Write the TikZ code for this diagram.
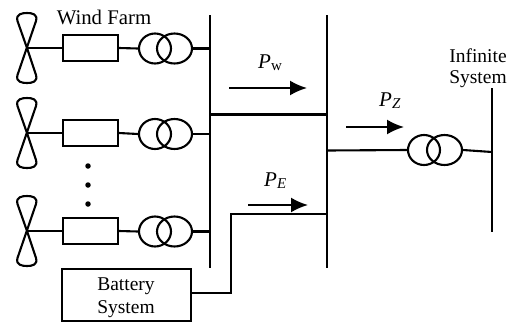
\documentclass[tikz,border=0pt]{standalone}
\usepackage{fontspec}
\setmainfont{Liberation Serif}
\usetikzlibrary{shapes.geometric,arrows.meta}
\tikzset{
  wire/.style={line width=2.1pt},
  flow/.style={line width=2.1pt,-{Latex[length=17pt,width=15pt]}},
  convbox/.style={draw,line width=2.1pt,minimum width=55pt,minimum height=26pt,inner sep=0pt},
  coilL/.style={draw,ellipse,line width=2.1pt,minimum width=32pt,minimum height=30pt,inner sep=0pt},
  coilR/.style={draw,ellipse,line width=2.1pt,minimum width=35pt,minimum height=30pt,inner sep=0pt},
  txt/.style={inner sep=0pt,font=\fontsize{19.5}{22}\selectfont,align=center},
  sym/.style={inner sep=0pt,font=\fontsize{21}{24}\selectfont},
  dotn/.style={circle,fill,inner sep=0pt,minimum size=5.5pt},
  blades/.pic={\draw[wire,line join=round]
     (0,0) -- (-9.5,-27) .. controls (-11.5,-34) and (-5,-35) .. (0,-35)
     .. controls (5,-35) and (11,-34) .. (9,-27) -- (-9.5,27)
     .. controls (-11.5,34) and (-5,35) .. (0,35)
     .. controls (5,35) and (11,34) .. (9,27) -- (0,0);}
}
\begin{document}
\begin{tikzpicture}[x=1pt,y=-1pt]
\useasboundingbox (0,0) rectangle (508,322);
% buses
\coordinate (b1t) at (210,15); \coordinate (b1b) at (210,268);
\coordinate (b2t) at (327,15); \coordinate (b2b) at (327,268);
\coordinate (b3t) at (492,88); \coordinate (b3b) at (492,232);
\draw[wire] (b1t) -- (b1b);
\draw[wire] (b2t) -- (b2b);
\draw[wire] (b3t) -- (b3b);
% wind branches
\foreach \n/\y/\yy in {a/48/48.5,b/133/134,c/231/231.5}{
  \coordinate (hub\n) at (27,\y);
  \pic at (hub\n) {blades};
  \node[convbox] (box\n) at (90.5,\y) {};
  \node[coilL] (l\n) at (155,\yy) {};
  \node[coilR] (r\n) at (174.5,\yy) {};
  \coordinate (bus\n) at (210,\yy);
  \draw[wire] (hub\n) -- (box\n.west);
  \draw[wire] (box\n.east) -- (l\n.west);
  \draw[wire] (r\n.east) -- (bus\n);
}
% dots
\node[dotn] (d1) at (88,166) {};
\node[dotn] (d2) at (88,185) {};
\node[dotn] (d3) at (88,204) {};
% bus links
\coordinate (t1) at (210,114.5); \coordinate (t2) at (327,114.5);
\draw[wire] (t1) -- (t2);
% grid transformer
\node[coilL] (lg) at (424,150) {};
\node[coilR] (rg) at (444.5,150) {};
\coordinate (g1) at (327,150.5); \coordinate (g2) at (492,152);
\draw[wire] (g1) -- (lg.west);
\draw[wire] (rg.east) -- (g2);
% battery
\node[draw,line width=2.1pt,minimum width=129pt,minimum height=52pt,inner sep=0pt] (bat) at (126.5,295) {};
\node[txt] (batt1) at (126,286) {Battery};
\node[txt] (batt2) at (126,309) {System};
\coordinate (e1) at (327,214);
\draw[wire,line join=miter] (bat.east |- 0,293) -- (231,293) -- (231,214) -- (e1);
% arrows
\coordinate (pw1) at (229,88); \coordinate (pw2) at (307,88);
\coordinate (pe1) at (248,205); \coordinate (pe2) at (308,205);
\coordinate (pz1) at (346,127); \coordinate (pz2) at (404,127);
\draw[flow] (pw1) -- (pw2);
\draw[flow] (pe1) -- (pe2);
\draw[flow] (pz1) -- (pz2);
% labels
\node[txt,font=\fontsize{20.8}{22}\selectfont] (wf) at (104,17) {Wind Farm};
\node[txt] (inf1) at (478,56) {Infinite};
\node[txt] (inf2) at (478,79) {System};
\node[sym,anchor=base west] (lw) at (258,68) {\textit{P}{\fontsize{15}{15}\selectfont\raisebox{-2pt}{w}}};
\node[sym,anchor=base west] (lz) at (379,106) {\textit{P}{\fontsize{15}{15}\selectfont\raisebox{-2pt}{\textit{Z}}}};
\node[sym,anchor=base west] (le) at (264,186) {\textit{P}{\fontsize{15}{15}\selectfont\raisebox{-2pt}{\textit{E}}}};
\end{tikzpicture}
\end{document}
